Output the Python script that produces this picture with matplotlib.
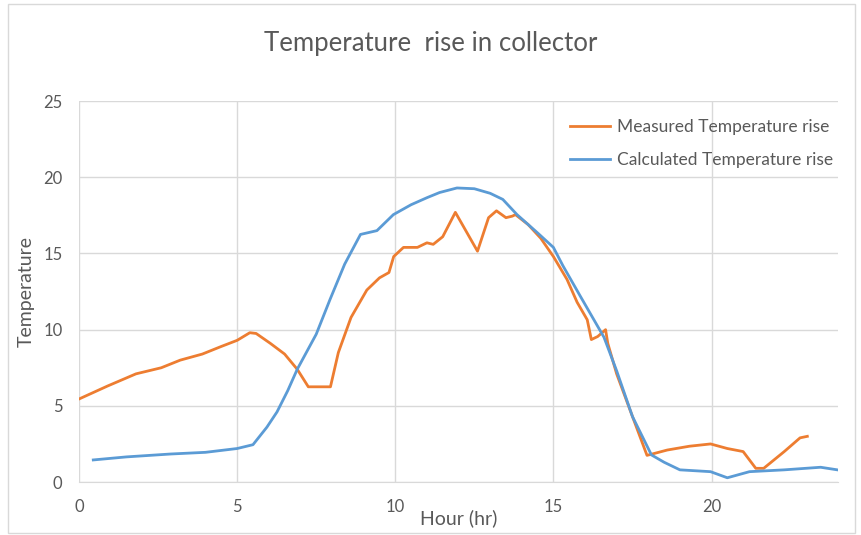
import matplotlib
matplotlib.use('Agg')
import matplotlib.pyplot as plt
from matplotlib.patches import Rectangle

plt.rcParams['font.family'] = ['Lato', 'DejaVu Sans']

# measured temperature rise (hour, degrees)
measured_hours = [0.0, 0.9, 1.8, 2.6, 3.2, 3.9, 4.5, 5.0, 5.4, 5.6, 6.05, 6.5,
                  6.9, 7.25, 7.95, 8.2, 8.6, 9.1, 9.5, 9.8, 9.95, 10.26, 10.7,
                  11.0, 11.2, 11.5, 11.9, 12.6, 12.95, 13.2, 13.5, 13.7, 13.8,
                  14.2, 14.6, 15.0, 15.43, 15.75, 16.07, 16.2, 16.4, 16.65,
                  16.72, 17.0, 17.5, 17.96, 18.6, 19.3, 19.97, 20.5, 21.0,
                  21.4, 21.65, 22.3, 22.8, 23.03]
measured_temp = [5.45, 6.3, 7.1, 7.5, 8.0, 8.4, 8.9, 9.3, 9.8, 9.75, 9.1, 8.4,
                 7.4, 6.25, 6.25, 8.5, 10.8, 12.6, 13.4, 13.75, 14.8, 15.4,
                 15.4, 15.7, 15.6, 16.1, 17.7, 15.15, 17.35, 17.8, 17.35,
                 17.45, 17.55, 16.9, 16.0, 14.8, 13.3, 11.8, 10.65, 9.35,
                 9.55, 10.0, 9.1, 7.1, 4.3, 1.75, 2.1, 2.35, 2.5, 2.2, 2.0,
                 0.9, 0.9, 2.0, 2.9, 3.0]

# calculated temperature rise
calc_hours = [0.45, 1.5, 2.9, 4.0, 5.0, 5.5, 5.94, 6.26, 6.6, 6.9, 7.5, 7.94,
              8.4, 8.9, 9.42, 9.94, 10.5, 11.0, 11.4, 11.95, 12.5, 13.0,
              13.4, 13.85, 14.5, 15.0, 15.3, 15.85, 16.6, 17.0, 17.5, 18.1,
              18.5, 19.0, 19.97, 20.5, 21.2, 22.3, 23.45, 23.98]
calc_temp = [1.45, 1.65, 1.84, 1.95, 2.2, 2.45, 3.6, 4.6, 6.0, 7.4, 9.7,
             12.0, 14.3, 16.25, 16.5, 17.55, 18.2, 18.66, 19.0, 19.3, 19.25,
             18.95, 18.55, 17.55, 16.35, 15.4, 14.2, 12.2, 9.5, 7.3, 4.3,
             1.78, 1.3, 0.8, 0.68, 0.28, 0.68, 0.8, 0.97, 0.8]

x_ticks = [0, 5, 10, 15, 20]
y_ticks = [0, 5, 10, 15, 20, 25]

text_color = '#595959'
grid_color = '#d9d9d9'

fig = plt.figure(figsize=(8.61, 5.35), dpi=100)
ax = fig.add_axes([0.0918, 0.099, 0.8815, 0.712])

ax.plot(measured_hours, measured_temp, color='#ED7D31', lw=2.0,
        label='Measured Temperature rise', solid_joinstyle='round')
ax.plot(calc_hours, calc_temp, color='#5B9BD5', lw=2.0,
        label='Calculated Temperature rise', solid_joinstyle='round')

ax.set_xlim(0, 24)
ax.set_ylim(0, 25)
ax.set_xticks(x_ticks)
ax.set_yticks(y_ticks)
ax.grid(True, color=grid_color, lw=1.0)
ax.set_axisbelow(True)
for side in ['top', 'right', 'left']:
    ax.spines[side].set_visible(False)
ax.spines['bottom'].set_color(grid_color)
ax.tick_params(length=0, colors=text_color, labelsize=12, pad=12)

ax.set_xlabel('Hour (hr)', color=text_color, fontsize=14, labelpad=-4)
ax.set_ylabel('Temperature', color=text_color, fontsize=14, labelpad=6)
fig.text(0.5, 0.918, 'Temperature  rise in collector', ha='center', va='center',
         color=text_color, fontsize=18.5)

leg = ax.legend(loc='upper right', bbox_to_anchor=(1.01, 0.985), frameon=False,
                fontsize=12.5, handlelength=2.3, labelspacing=1.0,
                handletextpad=0.45, borderaxespad=0.3)
for t in leg.get_texts():
    t.set_color(text_color)

# chart area border
fig.patches.append(Rectangle((0.009, 0.004), 0.984, 0.988, transform=fig.transFigure,
                             fill=False, edgecolor='#d9d9d9', lw=1.0))

fig.savefig('out.png', dpi=100)
